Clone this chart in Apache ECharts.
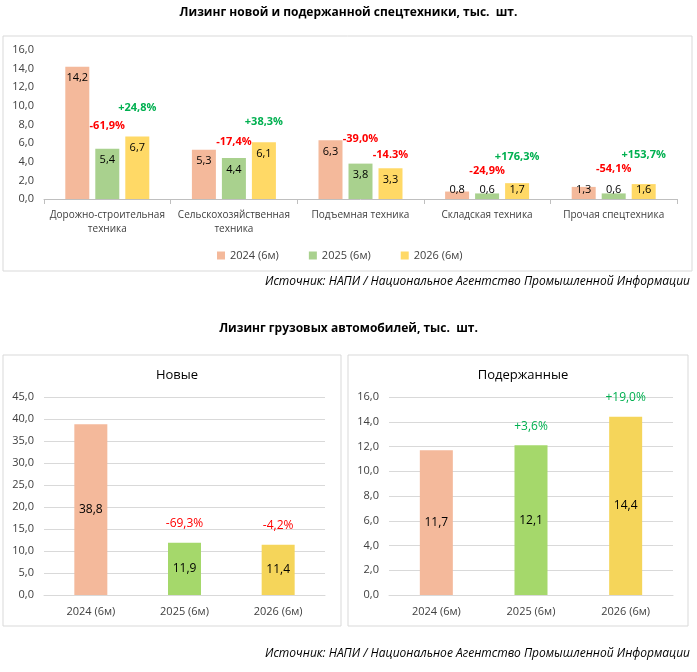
<!DOCTYPE html>
<html>
<head>
<meta charset="utf-8">
<script src="https://cdn.jsdelivr.net/npm/echarts@6/dist/echarts.min.js"></script>
<style>
  html, body { margin: 0; padding: 0; background: #fff; }
  #chart { width: 697px; height: 672px; }
</style>
</head>
<body>
<div id="chart"></div>
<script>
var FONT = 'Open Sans';

// top chart: special machinery leasing
var machCategories = ['Дорожно-строительная\nтехника', 'Сельскохозяйственная\nтехника', 'Подъемная техника', 'Складская техника', 'Прочая спецтехника'];
var mach2024 = [14.2, 5.3, 6.3, 0.8, 1.3];
var mach2025 = [5.4, 4.4, 3.8, 0.6, 0.6];
var mach2026 = [6.7, 6.1, 3.3, 1.7, 1.6];
var machPct2025 = ['-61,9%', '-17,4%', '-39,0%', '-24,9%', '-54,1%'];
var machPct2026 = ['+24,8%', '+38,3%', '-14.3%', '+176,3%', '+153,7%'];

// bottom charts: truck leasing
var periods = ['2024 (6м)', '2025 (6м)', '2026 (6м)'];
var trucksNew = [38.8, 11.9, 11.4];
var trucksNewPct = ['', '-69,3%', '-4,2%'];
var trucksUsed = [11.7, 12.1, 14.4];
var trucksUsedPct = ['', '+3,6%', '+19,0%'];

// layout only: how far (px) each % label floats above its bar
var liftPct2025 = [17, 11, 19, 17, 19];
var liftPct2026 = [23, 15, 8, 21, 24];

var topColors = ['#F4B99B', '#A9D18E', '#FFD966'];
var botColors = ['#F4B99B', '#A5D86B', '#F5D55A'];

function fmt(v) {
  return Number(v).toFixed(1).replace('.', ',');
}
function pctColor(s) {
  return s.charAt(0) === '-' ? '#FF0000' : '#00B050';
}

var chart = echarts.init(document.getElementById('chart'));

function machSeries(name, values, color) {
  return {
    name: name,
    type: 'bar',
    xAxisIndex: 0,
    yAxisIndex: 0,
    barWidth: 24,
    barGap: '25%',
    itemStyle: { color: color },
    data: values.map(function (v) {
      return {
        value: v,
        label: {
          position: v < 2 ? 'insideBottom' : 'insideTop',
          distance: v < 2 ? 4 : 6
        }
      };
    }),
    label: {
      show: true,
      color: '#000',
      fontFamily: FONT,
      fontSize: 11,
      formatter: function (p) { return fmt(p.value); }
    }
  };
}

// transparent copies on a hidden axis, only to carry the % labels
function pctOverlay(values, pct, lift) {
  return {
    type: 'bar',
    xAxisIndex: 1,
    yAxisIndex: 0,
    barWidth: 24,
    barGap: '25%',
    silent: true,
    itemStyle: { color: 'rgba(0,0,0,0)' },
    data: values.map(function (v, i) {
      return {
        value: v,
        label: pct ? { color: pctColor(pct[i]), distance: lift[i] } : undefined
      };
    }),
    label: {
      show: !!pct,
      position: 'top',
      fontFamily: FONT,
      fontSize: 11,
      fontWeight: 'bold',
      formatter: function (p) { return pct ? pct[p.dataIndex] : ''; }
    }
  };
}

function truckSeries(values, xi, yi) {
  return {
    type: 'bar',
    xAxisIndex: xi,
    yAxisIndex: yi,
    barWidth: 33,
    data: values.map(function (v, i) {
      return { value: v, itemStyle: { color: botColors[i] } };
    }),
    label: {
      show: true,
      position: 'inside',
      color: '#000',
      fontFamily: FONT,
      fontSize: 12,
      formatter: function (p) { return fmt(p.value); }
    }
  };
}

function truckPct(values, pct, xi, yi) {
  return {
    type: 'bar',
    xAxisIndex: xi,
    yAxisIndex: yi,
    barWidth: 33,
    silent: true,
    itemStyle: { color: 'rgba(0,0,0,0)' },
    data: values.map(function (v, i) {
      return { value: v, label: { color: pct[i] ? pctColor(pct[i]) : '#000' } };
    }),
    label: {
      show: true,
      position: 'top',
      distance: 13,
      fontFamily: FONT,
      fontSize: 12,
      formatter: function (p) { return pct[p.dataIndex]; }
    }
  };
}

function valueAxis(grid, max, interval) {
  return {
    type: 'value',
    gridIndex: grid,
    min: 0,
    max: max,
    interval: interval,
    axisLine: { show: false },
    axisTick: { show: false },
    splitLine: { show: grid !== 0, lineStyle: { color: '#D9D9D9' } },
    axisLabel: {
      color: '#404040',
      fontFamily: FONT,
      fontSize: 11,
      margin: 10,
      formatter: fmt
    }
  };
}

function catAxis(grid, data, hidden, ticks) {
  return {
    type: 'category',
    gridIndex: grid,
    data: data,
    show: !hidden,
    axisLine: { lineStyle: { color: ticks ? '#BFBFBF' : '#D9D9D9' } },
    axisTick: { show: !!ticks, length: 5, lineStyle: { color: '#BFBFBF' } },
    axisLabel: {
      color: '#404040',
      fontFamily: FONT,
      fontSize: ticks ? 10 : 11,
      margin: ticks ? 9 : 10,
      lineHeight: 14,
      interval: 0
    }
  };
}

var sourceText = 'Источник: НАПИ / Национальное Агентство Промышленной Информации';

var option = {
  animation: false,
  title: [
    { text: 'Лизинг новой и подержанной спецтехники, тыс.  шт.', left: 'center', top: 2,
      textStyle: { fontFamily: FONT, fontSize: 12, fontWeight: 'bold', color: '#000' } },
    { text: 'Лизинг грузовых автомобилей, тыс.  шт.', left: 'center', top: 318,
      textStyle: { fontFamily: FONT, fontSize: 12, fontWeight: 'bold', color: '#000' } },
    { text: 'Новые', left: 172, textAlign: 'center', top: 364,
      textStyle: { fontFamily: FONT, fontSize: 13, fontWeight: 'normal', color: '#000' } },
    { text: 'Подержанные', left: 518, textAlign: 'center', top: 364,
      textStyle: { fontFamily: FONT, fontSize: 13, fontWeight: 'normal', color: '#000' } }
  ],
  legend: {
    data: ['2024 (6м)', '2025 (6м)', '2026 (6м)'],
    top: 245,
    left: 212,
    icon: 'rect',
    itemWidth: 8,
    itemHeight: 8,
    itemGap: 30,
    textStyle: { fontFamily: FONT, fontSize: 11, color: '#404040' }
  },
  graphic: [
    { type: 'rect', shape: { x: 3, y: 36, width: 689, height: 235 },
      style: { fill: 'none', stroke: '#D9D9D9', lineWidth: 1 }, z: -1 },
    { type: 'rect', shape: { x: 3, y: 355, width: 338, height: 271 },
      style: { fill: 'none', stroke: '#D9D9D9', lineWidth: 1 }, z: -1 },
    { type: 'rect', shape: { x: 348, y: 355, width: 340, height: 271 },
      style: { fill: 'none', stroke: '#D9D9D9', lineWidth: 1 }, z: -1 },
    { type: 'text', right: 7, top: 276,
      style: { text: sourceText, fontFamily: FONT, fontSize: 12, fontStyle: 'italic', fill: '#000' } },
    { type: 'text', right: 7, top: 648,
      style: { text: sourceText, fontFamily: FONT, fontSize: 12, fontStyle: 'italic', fill: '#000' } }
  ],
  grid: [
    { left: 44, right: 20, top: 50, bottom: 473 },
    { left: 44, right: 372, top: 397, bottom: 77 },
    { left: 389, right: 24, top: 397, bottom: 77 }
  ],
  xAxis: [
    catAxis(0, machCategories, false, true),
    catAxis(0, machCategories, true, true),
    catAxis(1, periods, false, false),
    catAxis(2, periods, false, false),
    catAxis(1, periods, true, false),
    catAxis(2, periods, true, false)
  ],
  yAxis: [
    valueAxis(0, 16, 2),
    valueAxis(1, 45, 5),
    valueAxis(2, 16, 2)
  ],
  series: [
    machSeries('2024 (6м)', mach2024, topColors[0]),
    machSeries('2025 (6м)', mach2025, topColors[1]),
    machSeries('2026 (6м)', mach2026, topColors[2]),
    pctOverlay(mach2024, null, null),
    pctOverlay(mach2025, machPct2025, liftPct2025),
    pctOverlay(mach2026, machPct2026, liftPct2026),
    truckSeries(trucksNew, 2, 1),
    truckSeries(trucksUsed, 3, 2),
    truckPct(trucksNew, trucksNewPct, 4, 1),
    truckPct(trucksUsed, trucksUsedPct, 5, 2)
  ]
};

chart.setOption(option);
</script>
</body>
</html>
